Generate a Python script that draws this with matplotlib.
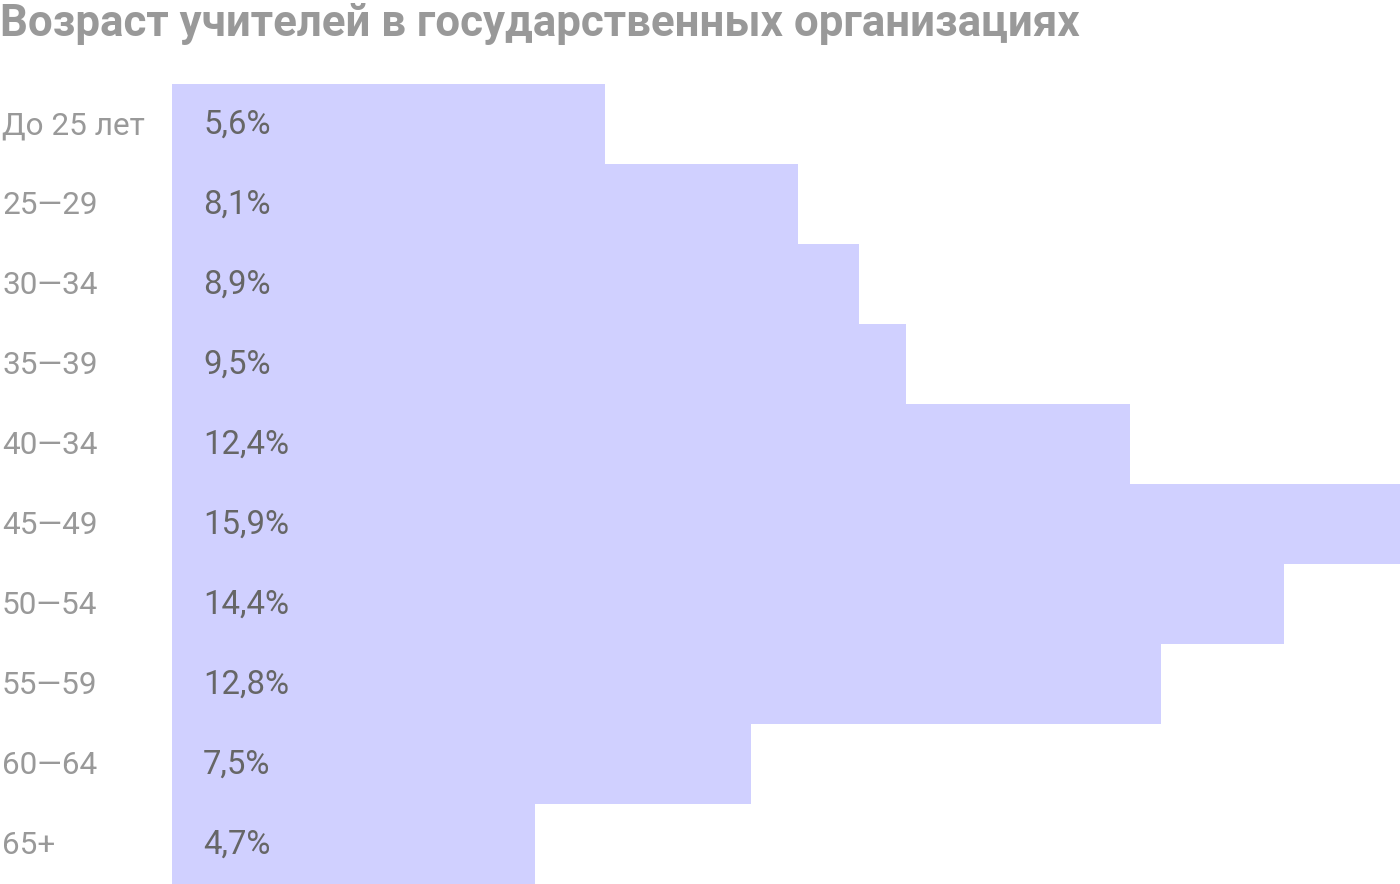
import matplotlib
matplotlib.use("Agg")
import matplotlib.pyplot as plt
from matplotlib.transforms import blended_transform_factory, ScaledTranslation

categories = ["До 25 лет", "25—29", "30—34", "35—39", "40—34", "45—49", "50—54", "55—59", "60—64", "65+"]
values = [5.6, 8.1, 8.9, 9.5, 12.4, 15.9, 14.4, 12.8, 7.5, 4.7]
value_labels = ["5,6%", "8,1%", "8,9%", "9,5%", "12,4%", "15,9%", "14,4%", "12,8%", "7,5%", "4,7%"]
title = "Возраст учителей в государственных организациях"

W, H = 1400, 884
fig = plt.figure(figsize=(W / 100, H / 100), dpi=100)
ax = fig.add_axes([172 / W, 0, 1 - 172 / W, 1 - 84 / H])

n = len(values)
ypos = list(range(n))
ax.barh(ypos, values, height=1.0, color="#d0d0ff", edgecolor="none")
ax.set_xlim(0, max(values))
ax.set_ylim(n - 0.5, -0.5)
ax.axis("off")

base_off = ScaledTranslation(0, -10 / 100, fig.dpi_scale_trans)
trans_lab = blended_transform_factory(fig.transFigure, ax.transData) + base_off
trans_val = ax.transData + ScaledTranslation(31 / 100, -10 / 100, fig.dpi_scale_trans)
for y, cat, vl in zip(ypos, categories, value_labels):
    ax.text(2 / W, y, cat, transform=trans_lab, ha="left", va="baseline",
            fontsize=22.7, color="#999999", family="Roboto")
    ax.text(0, y, vl, transform=trans_val, ha="left", va="baseline",
            fontsize=23.7, color="#666666", family="Roboto")

fig.text(0, 1 - 36 / H, title, ha="left", va="baseline", fontsize=31.6,
         fontweight="bold", color="#999999", family="Roboto")

fig.savefig("out.png", dpi=100)
